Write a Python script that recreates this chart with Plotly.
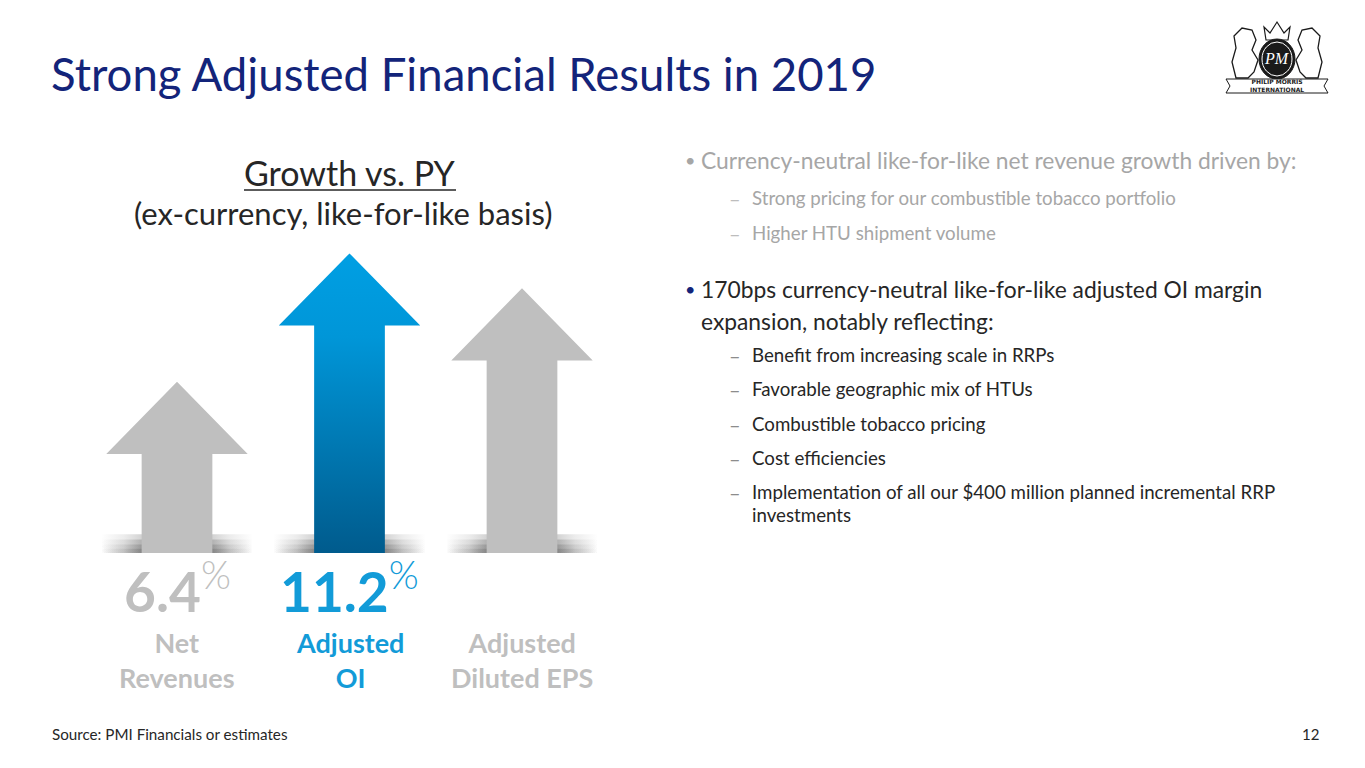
import plotly.graph_objects as go

# -----------------------------
# Chart data
# -----------------------------
categories = ["Net<br>Revenues", "Adjusted<br>OI", "Adjusted<br>Diluted EPS"]
growth_pct = [6.4, 11.2, 9.9]
value_labels = ["6.4", "11.2", ""]
highlight = [False, True, False]

bullet_1 = "Currency-neutral like-for-like net revenue growth driven by:"
bullet_1_subs = [
    "Strong pricing for our combustible tobacco portfolio",
    "Higher HTU shipment volume",
]
bullet_2 = ["170bps currency-neutral like-for-like adjusted OI margin",
            "expansion, notably reflecting:"]
bullet_2_subs = [
    ["Benefit from increasing scale in RRPs"],
    ["Favorable geographic mix of HTUs"],
    ["Combustible tobacco pricing"],
    ["Cost efficiencies"],
    ["Implementation of all our $400 million planned incremental RRP",
     "investments"],
]

W, H = 1365, 768
FONT = "Lato"
NAVY = "#13247a"
GREY = "#bfbfbf"
BLUE = "#129bd8"
DARK = "#262626"
LIGHT_TXT = "#a6a6a6"


def px(x):
    return x / W


def py(y):
    return 1 - y / H


def arrow_shape(center, value, head_h=2.7, head_w=0.41, shaft_w=0.205):
    xs = [center - shaft_w, center - shaft_w, center - head_w, center,
          center + head_w, center + shaft_w, center + shaft_w, center - shaft_w]
    ys = [0, value - head_h, value - head_h, value,
          value - head_h, value - head_h, 0, 0]
    return xs, ys


fig = go.Figure()

# -----------------------------
# Soft shadows at arrow bases (stacked layers -> vertical fade)
# -----------------------------
shadow_scale = [
    [0.0, "rgba(100,100,100,0)"],
    [0.15, "rgba(100,100,100,0.12)"],
    [0.3, "rgba(80,80,80,0.3)"],
    [0.5, "rgba(80,80,80,0.3)"],
    [0.7, "rgba(80,80,80,0.3)"],
    [0.85, "rgba(100,100,100,0.12)"],
    [1.0, "rgba(100,100,100,0)"],
]
for i, v in enumerate(growth_pct):
    for top in [0.7, 0.5, 0.32, 0.16]:
        fig.add_trace(go.Scatter(
            x=[i - 0.44, i - 0.44, i + 0.44, i + 0.44, i - 0.44],
            y=[0, top, top, 0, 0],
            mode="lines", line=dict(width=0), fill="toself",
            fillgradient=dict(type="horizontal", colorscale=shadow_scale),
            hoverinfo="skip", showlegend=False,
        ))

# -----------------------------
# Arrows
# -----------------------------
for i, v in enumerate(growth_pct):
    xs, ys = arrow_shape(i, v)
    if highlight[i]:
        fill_kw = dict(fillgradient=dict(
            type="vertical",
            colorscale=[[0, "#005b8d"], [0.72, "#0096d8"], [1, "#009fe3"]],
        ))
    else:
        fill_kw = dict(fillcolor=GREY)
    fig.add_trace(go.Scatter(
        x=xs, y=ys, mode="lines", line=dict(width=0),
        fill="toself", hoverinfo="skip", showlegend=False, **fill_kw,
    ))

# -----------------------------
# Values and category labels
# -----------------------------
for i, lab in enumerate(value_labels):
    color = BLUE if highlight[i] else GREY
    if lab:
        fig.add_annotation(
            x=i, y=py(587), xref="x", yref="paper",
            text=f"<b>{lab}</b><span style='font-weight:300'><sup>%</sup></span>",
            showarrow=False, xanchor="center", yanchor="middle",
            font=dict(family=FONT, size=55, color=color),
        )
    fig.add_annotation(
        x=i, y=py(660), xref="x", yref="paper",
        text=f"<b>{categories[i]}</b>",
        showarrow=False, xanchor="center", yanchor="middle",
        font=dict(family=FONT, size=27, color=color),
    )

# -----------------------------
# Slide texts
# -----------------------------
fig.add_annotation(
    x=px(49), y=py(73), xref="paper", yref="paper",
    text="Strong Adjusted Financial Results in 2019",
    showarrow=False, xanchor="left", yanchor="middle",
    font=dict(family=FONT, size=45.5, color=NAVY),
)
fig.add_annotation(
    x=px(350), y=py(172), xref="paper", yref="paper",
    text="Growth vs. PY", showarrow=False, xanchor="center", yanchor="middle",
    font=dict(family=FONT, size=34, color=DARK),
)
fig.add_shape(type="line", xref="paper", yref="paper",
              x0=px(244), x1=px(456), y0=py(190), y1=py(190),
              line=dict(color=DARK, width=1.5))
fig.add_annotation(
    x=px(343), y=py(213), xref="paper", yref="paper",
    text="(ex-currency, like-for-like basis)", showarrow=False,
    xanchor="center", yanchor="middle",
    font=dict(family=FONT, size=31, color=DARK),
)


def add_line(x, y, text, size, color):
    fig.add_annotation(
        x=px(x), y=py(y), xref="paper", yref="paper", text=text,
        showarrow=False, xanchor="left", yanchor="middle",
        font=dict(family=FONT, size=size, color=color),
    )


# first bullet (faded)
add_line(683, 160, "•", 18, LIGHT_TXT)
add_line(699, 160, bullet_1, 22.8, LIGHT_TXT)
for k, s in enumerate(bullet_1_subs):
    yy = 198 + k * 35
    add_line(727, yy, "–", 20, "#bdbdbd")
    add_line(750, yy, s, 18.7, LIGHT_TXT)

# second bullet
add_line(683, 289, "•", 18, NAVY)
add_line(699, 289, bullet_2[0], 22.8, DARK)
add_line(699, 321, bullet_2[1], 22.8, DARK)
yy = 355
for sub in bullet_2_subs:
    add_line(727, yy, "–", 20, "#8c8c8c")
    for j, s in enumerate(sub):
        add_line(750, yy + j * 23, s, 18.7, DARK)
    yy += 34.3

# footer
add_line(50, 734, "Source: PMI Financials or estimates", 15.2, DARK)
fig.add_annotation(
    x=px(1321), y=py(734), xref="paper", yref="paper", text="12",
    showarrow=False, xanchor="right", yanchor="middle",
    font=dict(family=FONT, size=15, color=DARK),
)

# -----------------------------
# Simple logo mark (crest)
# -----------------------------
LOGO = "#1a1a1a"


def path(points):
    return "M " + " L ".join(f"{px(a)},{py(b)}" for a, b in points) + " Z"


# lions (rough rampant silhouettes)
fig.add_shape(type="path", xref="paper", yref="paper",
              path=path([(1236, 78), (1232, 62), (1236, 48), (1234, 36),
                         (1242, 28), (1252, 30), (1256, 40), (1252, 50),
                         (1258, 60), (1254, 72), (1248, 78)]),
              fillcolor="white", line=dict(color=LOGO, width=1.3))
fig.add_shape(type="path", xref="paper", yref="paper",
              path=path([(1318, 78), (1322, 62), (1318, 48), (1320, 36),
                         (1312, 28), (1302, 30), (1298, 40), (1302, 50),
                         (1296, 60), (1300, 72), (1306, 78)]),
              fillcolor="white", line=dict(color=LOGO, width=1.3))
# crown
fig.add_shape(type="path", xref="paper", yref="paper",
              path=path([(1266, 40), (1264, 27), (1270, 33), (1277, 22),
                         (1284, 33), (1290, 27), (1288, 40)]),
              fillcolor="white", line=dict(color=LOGO, width=1.2))
# oval with monogram
fig.add_shape(type="circle", xref="paper", yref="paper",
              x0=px(1259), x1=px(1295), y0=py(79), y1=py(39),
              fillcolor=LOGO, line=dict(color=LOGO, width=1))
fig.add_shape(type="circle", xref="paper", yref="paper",
              x0=px(1262), x1=px(1292), y0=py(76), y1=py(42),
              fillcolor="rgba(0,0,0,0)", line=dict(color="white", width=1))
fig.add_annotation(
    x=px(1277), y=py(59), xref="paper", yref="paper", text="<i>PM</i>",
    showarrow=False, xanchor="center", yanchor="middle",
    font=dict(family="Liberation Serif", size=16, color="white"),
)
# banner
fig.add_shape(type="path", xref="paper", yref="paper",
              path=path([(1226, 79), (1328, 79), (1324, 86), (1328, 93),
                         (1226, 93), (1230, 86)]),
              fillcolor="white", line=dict(color=LOGO, width=1))
fig.add_annotation(
    x=px(1277), y=py(86), xref="paper", yref="paper",
    text="<b>PHILIP MORRIS<br>INTERNATIONAL</b>", showarrow=False,
    xanchor="center", yanchor="middle",
    font=dict(family="DejaVu Sans", size=6, color=LOGO),
)

# -----------------------------
# Layout
# -----------------------------
fig.update_layout(
    width=W, height=H,
    margin=dict(l=0, r=0, t=0, b=0),
    paper_bgcolor="white", plot_bgcolor="white",
    showlegend=False,
    xaxis=dict(domain=[px(90.75), px(608.25)], range=[-0.5, 2.5],
               visible=False, fixedrange=True),
    yaxis=dict(domain=[py(553), py(240)], range=[0, 11.7],
               visible=False, fixedrange=True),
)

fig.write_html(
    "out.html",
    config={"displayModeBar": False},
    post_script="document.body.style.margin='0';",
)
